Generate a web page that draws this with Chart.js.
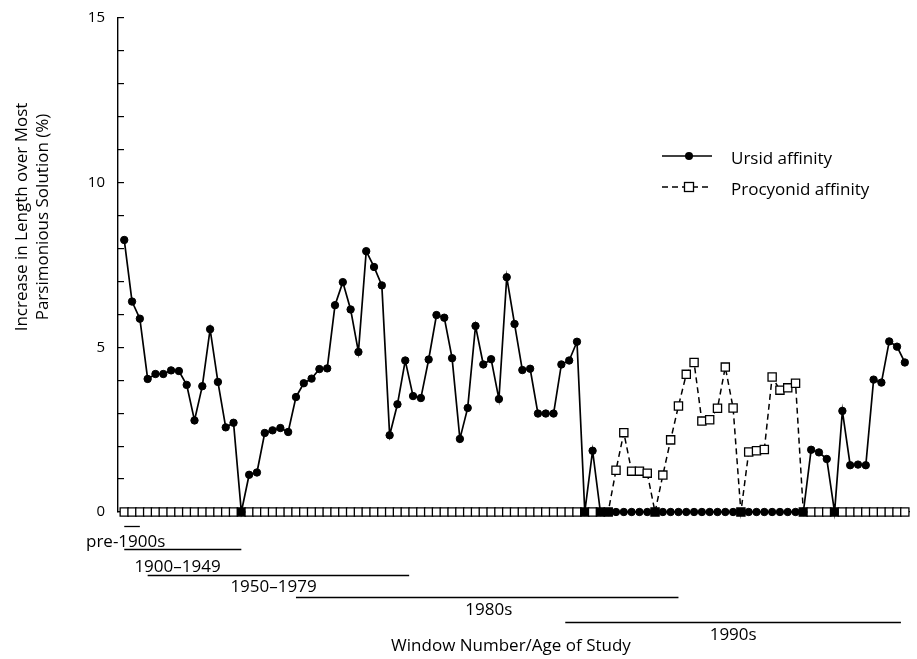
<!DOCTYPE html>
<html>
<head>
<meta charset="utf-8">
<script src="https://cdn.jsdelivr.net/npm/chart.js@4/dist/chart.umd.min.js"></script>
<style>
  html, body { margin: 0; padding: 0; background: #fff; }
  #wrap { width: 917px; height: 659px; position: relative; }
</style>
</head>
<body>
<div id="wrap"><canvas id="c" width="917" height="659"></canvas></div>
<script>
// ---- data (window number 0..100) ----
const windows = Array.from({length: 101}, (_, i) => i);

const ursid = [
  8.26, 6.39, 5.87, 4.04, 4.19, 4.19, 4.30, 4.28, 3.86, 2.78,
  3.82, 5.55, 3.95, 2.57, 2.71, 0, 1.13, 1.20, 2.40, 2.48,
  2.55, 2.43, 3.49, 3.91, 4.05, 4.34, 4.36, 6.28, 6.98, 6.15,
  4.86, 7.92, 7.44, 6.88, 2.33, 3.27, 4.60, 3.52, 3.46, 4.63,
  5.98, 5.90, 4.67, 2.22, 3.16, 5.65, 4.48, 4.64, 3.43, 7.13,
  5.71, 4.31, 4.35, 2.99, 2.99, 2.99, 4.48, 4.60, 5.17, 0,
  1.86, 0, 0, 0, 0, 0, 0, 0, 0, 0,
  0, 0, 0, 0, 0, 0, 0, 0, 0, 0,
  0, 0, 0, 0, 0, 0, 0, 0, 1.89, 1.81,
  1.61, 0, 3.07, 1.42, 1.44, 1.42, 4.02, 3.93, 5.18, 5.02,
  4.54
];

const procyonid = [
  0, 0, 0, 0, 0, 0, 0, 0, 0, 0,
  0, 0, 0, 0, 0, 0, 0, 0, 0, 0,
  0, 0, 0, 0, 0, 0, 0, 0, 0, 0,
  0, 0, 0, 0, 0, 0, 0, 0, 0, 0,
  0, 0, 0, 0, 0, 0, 0, 0, 0, 0,
  0, 0, 0, 0, 0, 0, 0, 0, 0, 0,
  0, 0, 0, 1.27, 2.41, 1.24, 1.24, 1.18, 0, 1.12,
  2.19, 3.22, 4.18, 4.54, 2.76, 2.80, 3.15, 4.40, 3.16, 0,
  1.82, 1.86, 1.90, 4.10, 3.70, 3.77, 3.91, 0, 0, 0,
  0, 0, 0, 0, 0, 0, 0, 0, 0, 0,
  0
];

const yTickLabels = [0, 5, 10, 15];

const seriesNames = ['Ursid affinity', 'Procyonid affinity'];

// study-age periods (window ranges)
const periodLabels = ['pre-1900s', '1900\u20131949', '1950\u20131979', '1980s', '1990s'];
const periodStart  = [0, 0, 3, 22, 56.5];
const periodEnd    = [2, 15, 36.5, 71, 99.5];

const yTitleLines = ['Increase in Length over Most', 'Parsimonious Solution (%)'];
const xTitle = 'Window Number/Age of Study';

// ---- layout (pixels / window units for text placement) ----
const periodLineY   = [526, 549, 575, 597, 622];
const periodTextY   = [547, 572, 592, 615, 640];
const periodTextAt  = [-4.9, 1.3, 13.6, 43.7, 75.0];

const FONT = '"Open Sans", "DejaVu Sans", sans-serif';
Chart.defaults.font.family = FONT;
Chart.defaults.color = '#000';

const decor = {
  id: 'decor',
  afterDraw(chart) {
    const ctx = chart.ctx;
    const xs = chart.scales.x;
    ctx.save();
    ctx.fillStyle = '#000';
    ctx.strokeStyle = '#000';

    // y title (two rotated lines)
    ctx.font = '17px ' + FONT;
    ctx.textAlign = 'center';
    ctx.textBaseline = 'middle';
    const tx = [22, 43];
    yTitleLines.forEach((t, i) => {
      ctx.save();
      ctx.translate(tx[i], 217);
      ctx.rotate(-Math.PI / 2);
      ctx.fillText(t, 0, 0);
      ctx.restore();
    });

    // legend
    const lx0 = 662, lx1 = 712, lxm = 689;
    const rows = [156, 187];
    ctx.lineWidth = 1.5;
    ctx.setLineDash([]);
    ctx.beginPath(); ctx.moveTo(lx0, rows[0]); ctx.lineTo(lx1, rows[0]); ctx.stroke();
    ctx.beginPath(); ctx.arc(lxm, rows[0], 4, 0, Math.PI * 2); ctx.fill();
    ctx.setLineDash([6, 4]);
    ctx.beginPath(); ctx.moveTo(lx0, rows[1]); ctx.lineTo(lx1, rows[1]); ctx.stroke();
    ctx.setLineDash([]);
    ctx.fillStyle = '#fff';
    ctx.fillRect(lxm - 4.5, rows[1] - 4.5, 9, 9);
    ctx.lineWidth = 1.3;
    ctx.strokeRect(lxm - 4.5, rows[1] - 4.5, 9, 9);
    ctx.fillStyle = '#000';
    ctx.textAlign = 'left';
    ctx.textBaseline = 'alphabetic';
    ctx.font = '17px ' + FONT;
    ctx.fillText(seriesNames[0], 731, 164);
    ctx.fillText(seriesNames[1], 731, 195);

    // period bars + labels
    ctx.lineWidth = 1.3;
    ctx.font = '17px ' + FONT;
    periodLabels.forEach((lab, i) => {
      const a = xs.getPixelForValue(periodStart[i]);
      const b = xs.getPixelForValue(periodEnd[i]);
      ctx.beginPath();
      ctx.moveTo(a, periodLineY[i] + 0.5);
      ctx.lineTo(b, periodLineY[i] + 0.5);
      ctx.stroke();
      ctx.fillText(lab, xs.getPixelForValue(periodTextAt[i]), periodTextY[i]);
    });

    // x title
    ctx.font = '17px ' + FONT;
    ctx.textAlign = 'center';
    ctx.fillText(xTitle, 511, 651);
    ctx.restore();
  }
};

new Chart(document.getElementById('c'), {
  type: 'line',
  data: {
    labels: windows,
    datasets: [
      {
        label: seriesNames[0],
        data: windows.map((w, i) => ({x: w, y: ursid[i]})),
        borderColor: '#000',
        borderWidth: 1.7,
        backgroundColor: '#000',
        pointStyle: 'circle',
        pointRadius: 3.7,
        pointBorderWidth: 1,
        pointBorderColor: '#000',
        pointBackgroundColor: '#000',
        tension: 0,
        clip: false
      },
      {
        label: seriesNames[1],
        data: windows.map((w, i) => ({x: w, y: procyonid[i]})),
        borderColor: '#000',
        borderWidth: 1.5,
        borderDash: [6, 4],
        pointStyle: 'rect',
        pointRadius: 5.8,
        pointBorderWidth: 1.3,
        pointBorderColor: '#000',
        pointBackgroundColor: (c) => (ursid[c.dataIndex] === 0 && procyonid[c.dataIndex] === 0) ? '#000' : '#fff',
        tension: 0,
        clip: false
      }
    ]
  },
  options: {
    responsive: false,
    animation: false,
    devicePixelRatio: 1,
    layout: { padding: { top: 18, right: 1, bottom: 147, left: 0 } },
    plugins: {
      legend: { display: false },
      tooltip: { enabled: false }
    },
    scales: {
      x: {
        type: 'linear',
        min: -0.8,
        max: 100.65,
        ticks: { display: false },
        grid: { display: false, drawTicks: false },
        border: { display: true, color: '#000', width: 1.2 },
        afterFit: (s) => { s.height = 0; s.paddingLeft = 0; s.paddingRight = 0; s.paddingTop = 0; s.paddingBottom = 0; }
      },
      y: {
        min: 0,
        max: 15,
        ticks: {
          stepSize: 1,
          autoSkip: false,
          padding: 19,
          font: { size: 15 },
          color: '#000',
          callback: (v) => yTickLabels.includes(v) ? String(v) : ''
        },
        grid: {
          drawOnChartArea: false,
          drawTicks: true,
          tickLength: -6,
          color: '#000',
          lineWidth: 1.2
        },
        border: { display: true, color: '#000', width: 1.4 },
        afterFit: (s) => { s.width = 118; s.paddingTop = 0; s.paddingBottom = 0; s.paddingLeft = 0; s.paddingRight = 0; }
      }
    }
  },
  plugins: [decor]
});
</script>
</body>
</html>
